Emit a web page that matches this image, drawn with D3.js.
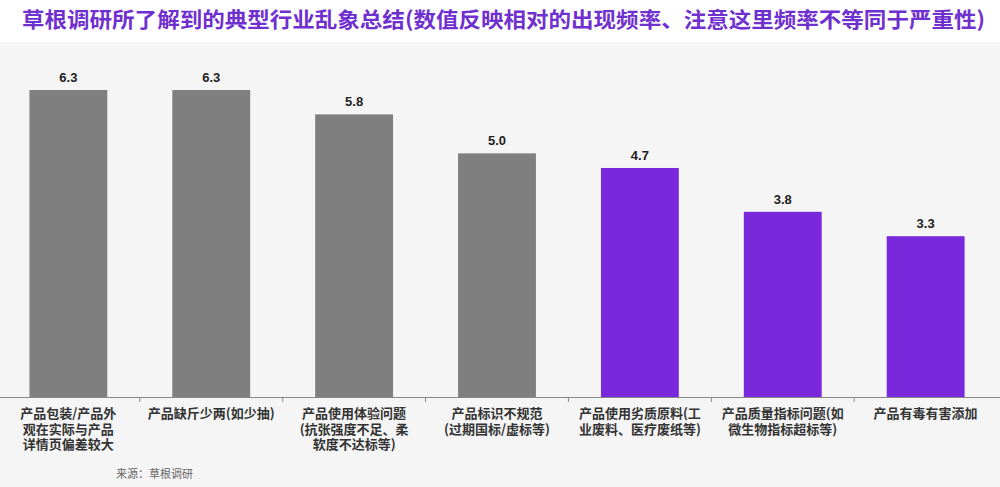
<!DOCTYPE html><html><head><meta charset="utf-8"><script src="https://cdn.jsdelivr.net/npm/d3@7"></script>
<style>body{margin:0;background:#fff}</style></head><body><svg id="c" width="1000" height="487"></svg>
<script>
const categories=[["产品包装/产品外","观在实际与产品","详情页偏差较大"],["产品缺斤少两(如少抽)"],["产品使用体验问题","(抗张强度不足、柔","软度不达标等)"],["产品标识不规范","(过期国标/虚标等)"],["产品使用劣质原料(工","业废料、医疗废纸等)"],["产品质量指标问题(如","微生物指标超标等)"],["产品有毒有害添加"]];
const values=[6.3,6.3,5.8,5.0,4.7,3.8,3.3];
const colors=["#7f7f7f","#7f7f7f","#7f7f7f","#7f7f7f","#7a28dc","#7a28dc","#7a28dc"];
const svg=d3.select("#c");
const font="'Noto Sans CJK SC',sans-serif";
svg.append("rect").attr("x",0).attr("y",42).attr("width",1000).attr("height",445).attr("fill","#f5f5f5");
svg.append("text").attr("x",22).attr("y",27).attr("textLength",963).attr("lengthAdjust","spacingAndGlyphs")
 .attr("font-family",font).attr("font-weight","bold").attr("font-size",21).attr("fill","#7030d0")
 .text("草根调研所了解到的典型行业乱象总结(数值反映相对的出现频率、注意这里频率不等同于严重性)");
const idx=d3.range(values.length);
const x=d3.scaleBand().domain(idx).range([-3,997]).paddingInner(0.455).paddingOuter(0.227);
const y=d3.scaleLinear().domain([0,6.3]).range([397,90]);
svg.selectAll(".b").data(idx).join("rect").attr("x",i=>x(i)).attr("width",x.bandwidth())
 .attr("y",i=>y(values[i])).attr("height",i=>397-y(values[i])).attr("fill",i=>colors[i]);
svg.selectAll(".v").data(idx).join("text").attr("x",i=>x(i)+x.bandwidth()/2).attr("y",i=>y(values[i])-8)
 .attr("text-anchor","middle").attr("font-family","Arial,Liberation Sans,sans-serif").attr("font-weight","bold")
 .attr("font-size",13).attr("fill","#222").text(i=>values[i].toFixed(1));
svg.append("line").attr("x1",0).attr("x2",1000).attr("y1",397.5).attr("y2",397.5).attr("stroke","#888").attr("stroke-width",1.2);
const step=x.step();
d3.range(1,values.length).forEach(k=>{const xx=x(k)-(step-x.bandwidth())/2;
 svg.append("line").attr("x1",xx).attr("x2",xx).attr("y1",397).attr("y2",402).attr("stroke","#888");});
idx.forEach(i=>{const t=svg.append("text").attr("text-anchor","middle").attr("font-family",font).attr("font-weight","bold")
 .attr("font-size",13).attr("fill","#333");
 categories[i].forEach((l,j)=>t.append("tspan").attr("x",x(i)+x.bandwidth()/2).attr("y",418+j*15.5).text(l));});
svg.append("text").attr("x",116).attr("y",478).attr("font-family",font).attr("font-size",11).attr("fill","#666").text("来源：草根调研");
</script></body></html>
